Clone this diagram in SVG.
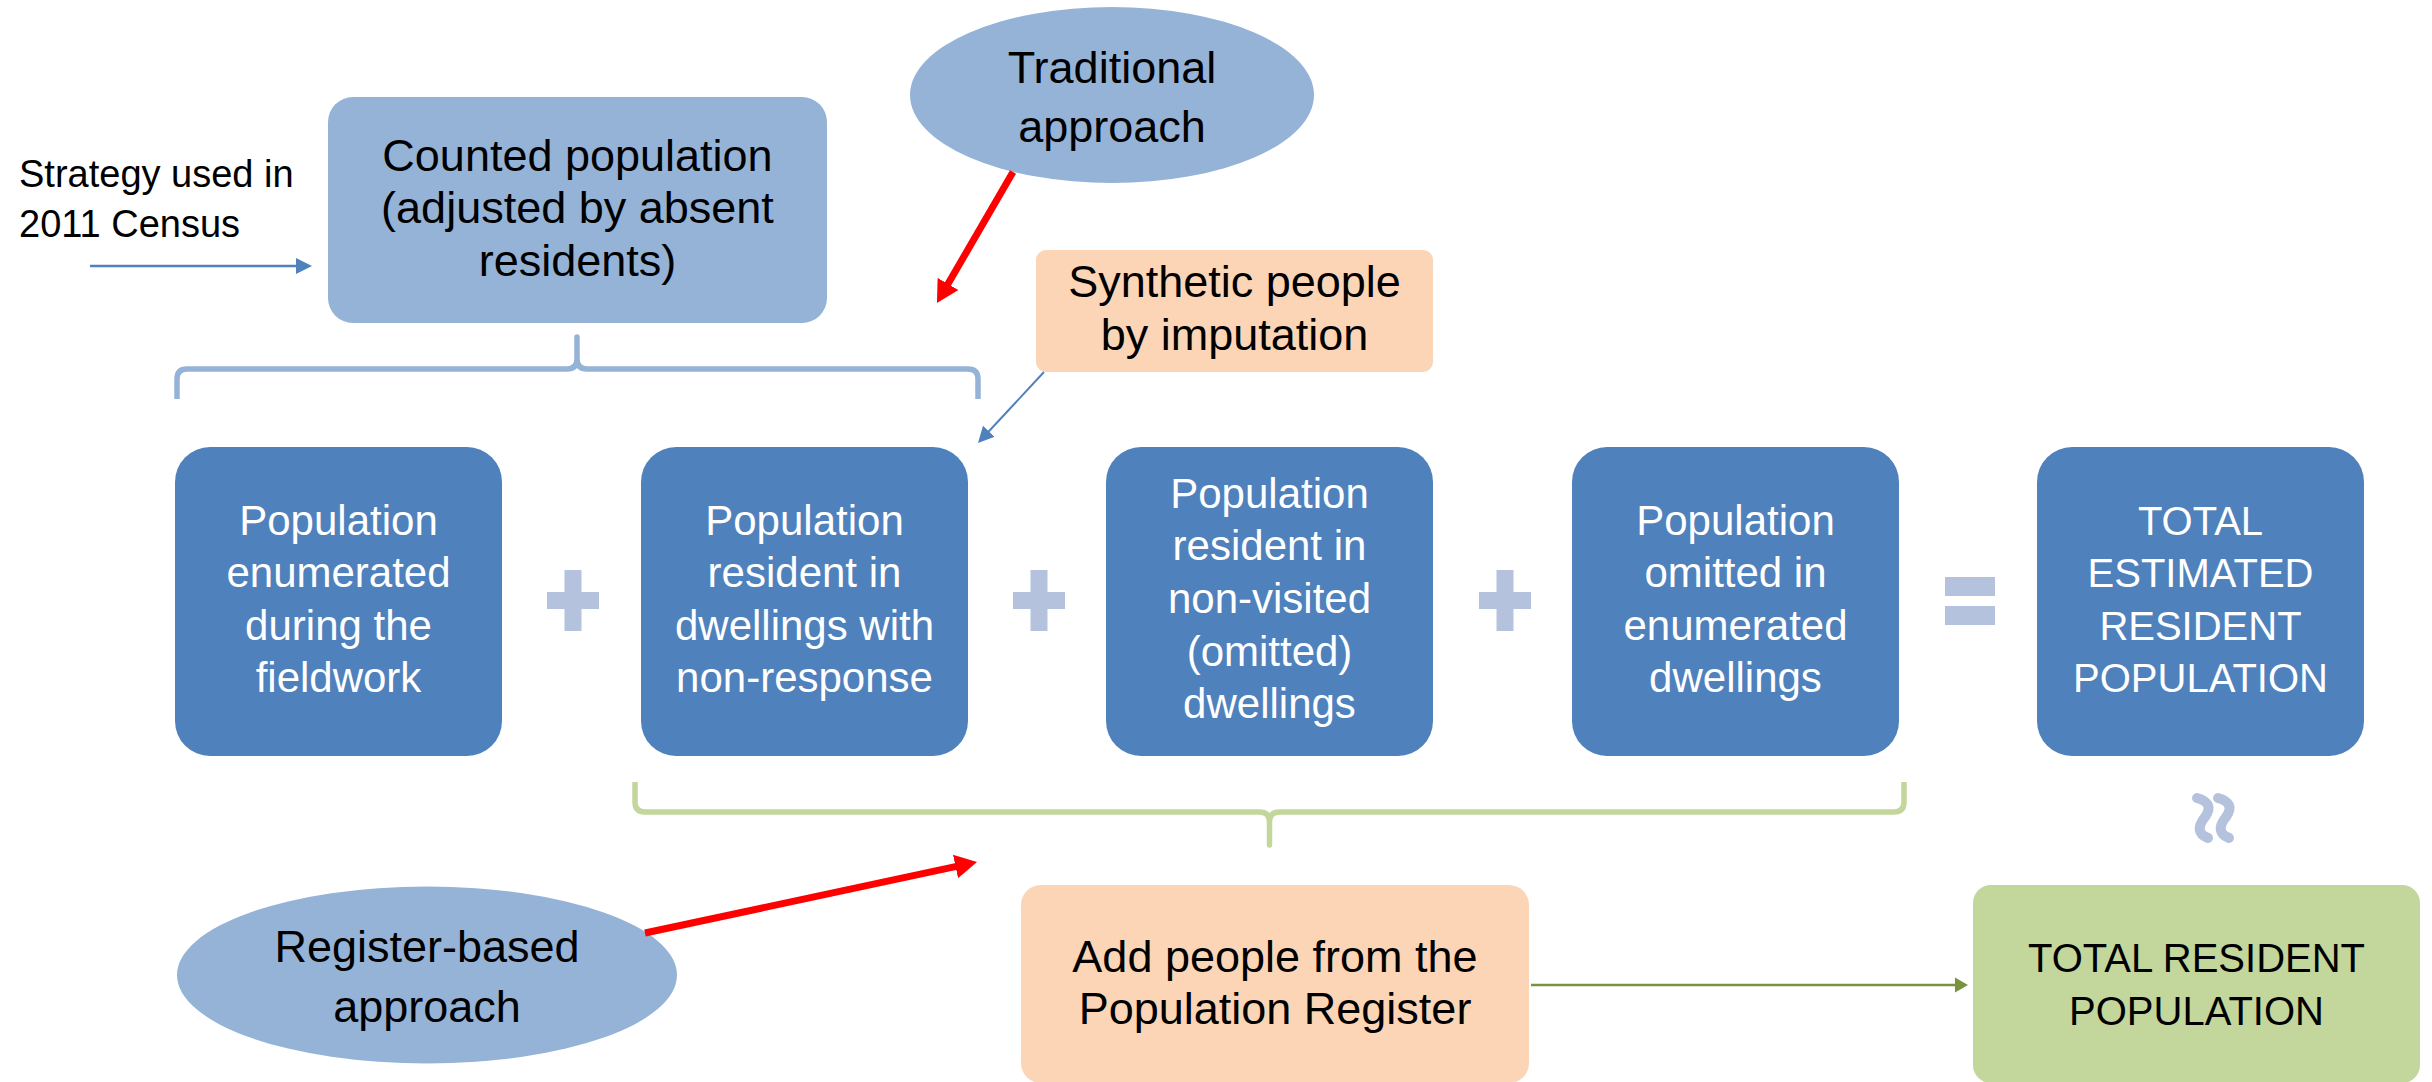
<svg xmlns="http://www.w3.org/2000/svg" width="2432" height="1082" viewBox="0 0 2432 1082">
<defs>
<style>
text { font-family: "Liberation Sans", Arial, sans-serif; text-anchor: middle; }
.wt { fill: #FFFFFF; font-size: 42px; }
.bk { fill: #000000; font-size: 45px; }
.cap { fill: #000000; font-size: 40px; }
.note { fill: #000000; font-size: 38px; text-anchor: start; }
.main { fill: #4F81BD; }
.light { fill: #95B3D7; }
.peach { fill: #FBD5B5; }
.green { fill: #C3D69B; }
.op { fill: #B4C2DE; }
.wave { fill: none; stroke: #B4C2DE; stroke-width: 10; stroke-linecap: round; }
.brace { fill: none; stroke-width: 5.5; stroke-linejoin: round; }
.red { stroke: #FF0000; stroke-width: 7; fill: none; marker-end: url(#redHead); }
.blue { stroke: #4F81BD; fill: none; marker-end: url(#blueHead); }
.grn { stroke: #77933C; stroke-width: 2.5; fill: none; marker-end: url(#greenHead); }
</style>
<marker id="redHead" markerUnits="userSpaceOnUse" viewBox="0 -13 23 26" markerWidth="23" markerHeight="26" refX="1" refY="0" orient="auto">
<path d="M0,-12 L22,0 L0,12 Z" fill="#FF0000"/>
</marker>
<marker id="blueHead" markerUnits="userSpaceOnUse" viewBox="0 -9 17 18" markerWidth="17" markerHeight="18" refX="1" refY="0" orient="auto">
<path d="M0,-8 L16,0 L0,8 Z" fill="#4F81BD"/>
</marker>
<marker id="greenHead" markerUnits="userSpaceOnUse" viewBox="0 -8 14 16" markerWidth="14" markerHeight="16" refX="1" refY="0" orient="auto">
<path d="M0,-7.5 L13,0 L0,7.5 Z" fill="#77933C"/>
</marker>
<path id="plus" d="M-8.5,-30.5 H8.5 V-8.5 H26 V8.5 H8.5 V30.5 H-8.5 V8.5 H-26 V-8.5 H-8.5 Z"/>
</defs>

<rect width="2432" height="1082" fill="#FFFFFF"/>

<g id="strategy-note">
<text class="note" x="19" y="187">Strategy used in</text>
<text class="note" x="19" y="237">2011 Census</text>
</g>

<g id="counted-population">
<rect class="light" x="328" y="97" width="499" height="226" rx="25"/>
<text class="bk" x="577.5" y="171">Counted population</text>
<text class="bk" x="577.5" y="223">(adjusted by absent</text>
<text class="bk" x="577.5" y="276">residents)</text>
</g>

<g id="traditional-approach">
<ellipse class="light" cx="1112" cy="95" rx="202" ry="88"/>
<text class="bk" x="1112" y="83">Traditional</text>
<text class="bk" x="1112" y="142">approach</text>
</g>

<g id="synthetic-people">
<rect class="peach" x="1036" y="250" width="397" height="122" rx="10"/>
<text class="bk" x="1234.5" y="297">Synthetic people</text>
<text class="bk" x="1234.5" y="350">by imputation</text>
</g>

<g id="enumerated">
<rect class="main" x="175" y="447" width="327" height="309" rx="35"/>
<text class="wt" x="338.5" y="535">Population</text>
<text class="wt" x="338.5" y="587">enumerated</text>
<text class="wt" x="338.5" y="640">during the</text>
<text class="wt" x="338.5" y="692">fieldwork</text>
</g>

<g id="non-response">
<rect class="main" x="641" y="447" width="327" height="309" rx="35"/>
<text class="wt" x="804.5" y="535">Population</text>
<text class="wt" x="804.5" y="587">resident in</text>
<text class="wt" x="804.5" y="640">dwellings with</text>
<text class="wt" x="804.5" y="692">non-response</text>
</g>

<g id="non-visited">
<rect class="main" x="1106" y="447" width="327" height="309" rx="35"/>
<text class="wt" x="1269.5" y="508">Population</text>
<text class="wt" x="1269.5" y="560">resident in</text>
<text class="wt" x="1269.5" y="613">non-visited</text>
<text class="wt" x="1269.5" y="666">(omitted)</text>
<text class="wt" x="1269.5" y="718">dwellings</text>
</g>

<g id="omitted">
<rect class="main" x="1572" y="447" width="327" height="309" rx="35"/>
<text class="wt" x="1735.5" y="535">Population</text>
<text class="wt" x="1735.5" y="587">omitted in</text>
<text class="wt" x="1735.5" y="640">enumerated</text>
<text class="wt" x="1735.5" y="692">dwellings</text>
</g>

<g id="total-estimated">
<rect class="main" x="2037" y="447" width="327" height="309" rx="35"/>
<text class="wt" x="2200.5" y="535" style="font-size:40px">TOTAL</text>
<text class="wt" x="2200.5" y="587" style="font-size:40px">ESTIMATED</text>
<text class="wt" x="2200.5" y="640" style="font-size:40px">RESIDENT</text>
<text class="wt" x="2200.5" y="692" style="font-size:40px">POPULATION</text>
</g>

<g id="operators">
<use href="#plus" class="op" x="573" y="600.5"/>
<use href="#plus" class="op" x="1039" y="600.5"/>
<use href="#plus" class="op" x="1505" y="600.5"/>
<rect class="op" x="1945" y="577" width="50" height="19"/>
<rect class="op" x="1945" y="606" width="50" height="19"/>
<path class="wave" d="M2197,798 Q2215,803 2205,817 Q2193,832 2208,838"/>
<path class="wave" d="M2218,798 Q2236,803 2226,817 Q2214,832 2229,838"/>
</g>

<g id="braces">
<path class="brace" stroke="#95B3D7" d="M177,399 V379 Q177,369 187,369 H567 Q577,369 577,359 V337 V359 Q577,369 587,369 H968 Q978,369 978,379 V399"/>
<path class="brace" stroke="#C3D69B" d="M635,782 V802 Q635,812 645,812 H1259.5 Q1269.5,812 1269.5,822 V845 V822 Q1269.5,812 1279.5,812 H1894 Q1904,812 1904,802 V782"/>
</g>

<g id="register-approach">
<ellipse class="light" cx="427" cy="975" rx="250" ry="88.5"/>
<text class="bk" x="427" y="962">Register-based</text>
<text class="bk" x="427" y="1022">approach</text>
</g>

<g id="add-people">
<rect class="peach" x="1021" y="885" width="508" height="198" rx="20"/>
<text class="bk" x="1275" y="972">Add people from the</text>
<text class="bk" x="1275" y="1024">Population Register</text>
</g>

<g id="total-resident">
<rect class="green" x="1973" y="885" width="447" height="198" rx="18"/>
<text class="cap" x="2196.5" y="972">TOTAL RESIDENT</text>
<text class="cap" x="2196.5" y="1025">POPULATION</text>
</g>

<g id="connectors">
<line class="blue" style="stroke-width:2.5" x1="90" y1="266" x2="297" y2="266"/>
<line class="red" x1="1013" y1="172" x2="947.5" y2="284.8"/>
<line class="blue" style="stroke-width:2" x1="1044" y1="372" x2="988.2" y2="432"/>
<line class="red" x1="645" y1="933" x2="956.5" y2="866.4"/>
<line class="grn" x1="1531" y1="985" x2="1956" y2="985"/>
</g>
</svg>
